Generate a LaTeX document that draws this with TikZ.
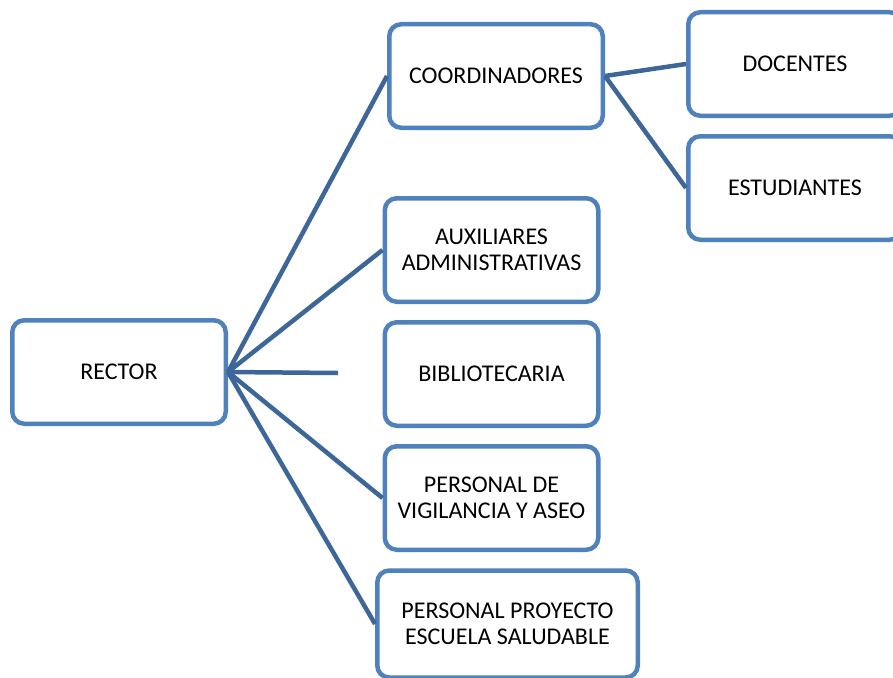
\documentclass[tikz,border=0pt]{standalone}
\usepackage{fontspec}
\setmainfont{Carlito}
\definecolor{boxblue}{HTML}{4F81BD}
\definecolor{linkblue}{HTML}{3D6699}
\begin{document}
\begin{tikzpicture}[x=1pt, y=-1pt,
  cargo/.style={draw=boxblue, line width=4.5pt, rounded corners=12pt, fill=white,
    minimum width=213.5pt, minimum height=103.5pt, align=center,
    font=\fontsize{24}{26}\selectfont},
  link/.style={draw=linkblue, line width=4.5pt}]
\useasboundingbox (0, 0) rectangle (893, 677);
\node[cargo] (rector) at (119, 372) {RECTOR};
\node[cargo] (coord) at (496, 76) {COORDINADORES};
\node[cargo] (docentes) at (795, 64) {DOCENTES};
\node[cargo] (estudiantes) at (795, 188) {ESTUDIANTES};
\node[cargo] (aux) at (491.5, 250) {AUXILIARES\\ADMINISTRATIVAS};
\node[cargo] (biblio) at (491.5, 374) {BIBLIOTECARIA};
\node[cargo] (vigil) at (491.5, 498) {PERSONAL DE\\VIGILANCIA Y ASEO};
\node[cargo, minimum width=260.5pt, minimum height=107pt] (proyecto) at (507.5, 624)
  {PERSONAL PROYECTO\\ESCUELA SALUDABLE};
\coordinate (biblioend) at (338, 373);
\foreach \n in {coord, aux, vigil, proyecto}
  \draw[link] (rector.east) -- (\n.west);
\draw[link] (rector.east) -- (biblioend);
\foreach \n in {docentes, estudiantes}
  \draw[link] (coord.east) -- (\n.west);
\end{tikzpicture}
\end{document}
